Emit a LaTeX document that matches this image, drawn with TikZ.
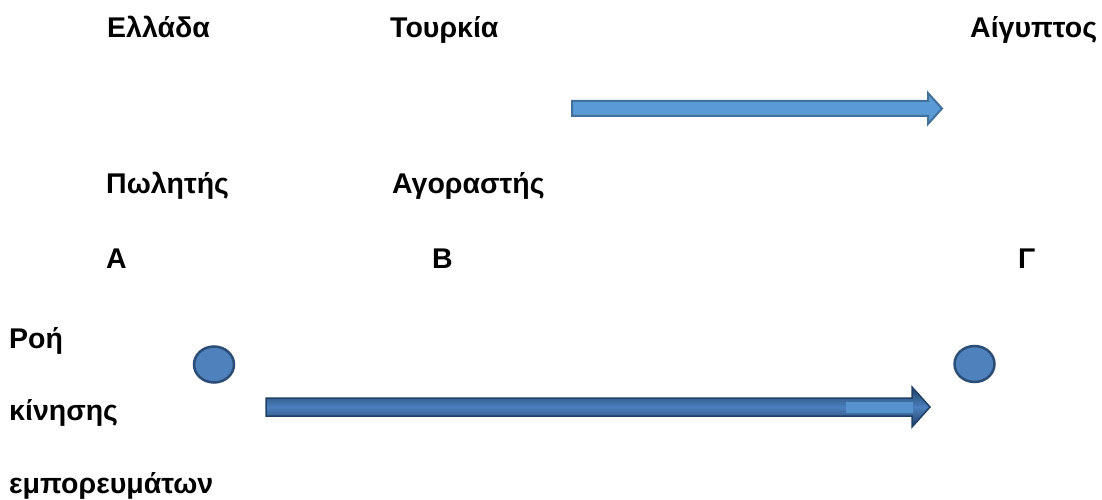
\documentclass[tikz,border=0pt]{standalone}
\usepackage{fontspec}
\setmainfont{Liberation Sans}
\usetikzlibrary{shapes.geometric}
\definecolor{arrowfill}{HTML}{5B9BD5}
\definecolor{arrowline}{HTML}{41719C}
\definecolor{flowdark}{HTML}{1F3F66}
\definecolor{flowmid}{HTML}{4C7FBD}
\definecolor{dotfill}{HTML}{4F81BD}
\definecolor{dotline}{HTML}{2C4D75}
\begin{document}
\begin{tikzpicture}[x=1pt,y=-1pt,
  lbl/.style={anchor=base west, inner sep=0pt, font=\fontsize{28.5}{34}\selectfont\bfseries},
  dot/.style={ellipse, draw=dotline, line width=2.5pt, fill=dotfill,
              minimum width=40pt, minimum height=36pt, inner sep=0pt}]
  \useasboundingbox (0,0) rectangle (1102,500);
  % countries
  \node [lbl] (greece) at (107,38)  {Ελλάδα};
  \node [lbl] (turkey) at (390,38)  {Τουρκία};
  \node [lbl] (egypt)  at (970,38)  {Αίγυπτος};
  % roles
  \node [lbl] (seller) at (106,193) {Πωλητής};
  \node [lbl] (buyer)  at (392,193) {Αγοραστής};
  \node [lbl] (ptA)    at (106,268) {Α};
  \node [lbl] (ptB)    at (432,268) {Β};
  \node [lbl] (ptG)    at (1018,268) {Γ};
  % flow text
  \node [lbl] (flow1)  at (9,348)   {Ροή};
  \node [lbl] (flow2)  at (9,420)   {κίνησης};
  \node [lbl] (flow3)  at (9,493)   {εμπορευμάτων};
  % points
  \node [dot] (dotA) at (214,364.5) {};
  \node [dot] (dotG) at (974.5,364) {};
  % upper arrow
  \draw [arrowline, fill=arrowfill, line width=2pt, line join=miter]
    (572,101) -- (928,101) -- (928,93) -- (942,108.5)
    -- (928,124) -- (928,116) -- (572,116) -- cycle;
  % lower arrow
  \draw [flowdark, line width=1.5pt, top color=flowdark, bottom color=flowdark,
         middle color=flowmid]
    (266,398) -- (912,398) -- (912,387) -- (930,407)
    -- (912,427) -- (912,416) -- (266,416) -- cycle;
  \fill [arrowfill!70!flowmid] (846,401.5) rectangle (913,412.5);
\end{tikzpicture}
\end{document}
